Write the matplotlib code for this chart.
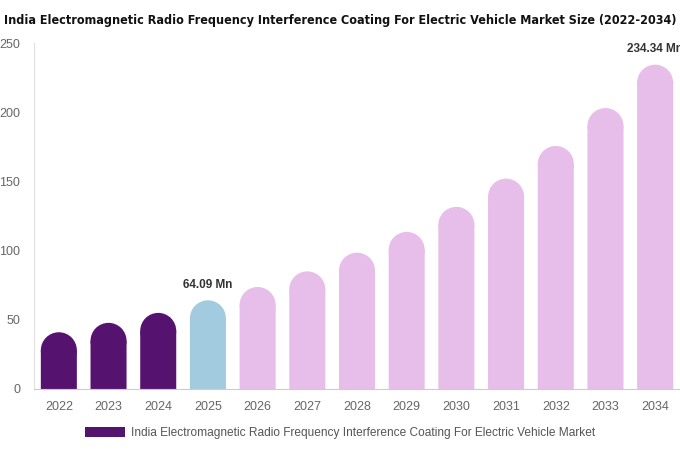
import matplotlib.pyplot as plt
from matplotlib.patches import Ellipse, Patch

years = ['2022', '2023', '2024', '2025', '2026', '2027', '2028',
         '2029', '2030', '2031', '2032', '2033', '2034']
values = [41.0, 47.8, 55.0, 64.09, 73.7, 85.0, 98.5, 113.5, 131.6,
          152.0, 175.6, 203.0, 234.34]
labels = {3: '64.09 Mn', 12: '234.34 Mn'}
title = 'India Electromagnetic Radio Frequency Interference Coating For Electric Vehicle Market Size (2022-2034)'
legend_label = 'India Electromagnetic Radio Frequency Interference Coating For Electric Vehicle Market'

dark = '#55136f'
blue = '#a3cbdf'
pink = '#e7bde9'
colors = [dark] * 3 + [blue] + [pink] * 9

plt.rcParams['font.family'] = ['Liberation Sans', 'DejaVu Sans']

fig = plt.figure(figsize=(6.8, 4.5), dpi=100)
ax = fig.add_axes([0.05, 0.1356, 0.95, 0.7688])
ax.set_xlim(-0.5, len(years) - 0.5)
ax.set_ylim(0, 250)

width = 0.725
# radius of the rounded top in data units (y)
ax_h_px = 0.7688 * 450
r = (width / 2) * (0.95 * 680 / len(years)) / (ax_h_px / 250)

x = list(range(len(years)))
for i, v in enumerate(values):
    ax.bar(i, v - r, width=width, color=colors[i], linewidth=0, snap=False)
    ax.add_patch(Ellipse((i, v - r), width=width, height=2 * r,
                         facecolor=colors[i], edgecolor='none'))

for i, txt in labels.items():
    ax.text(i, values[i] + 7, txt, ha='center', va='bottom',
            fontsize=8.5, fontweight='bold', color='#333333', clip_on=False)

ax.set_xticks(x)
ax.set_xticklabels(years)
ax.set_yticks([0, 50, 100, 150, 200, 250])
ax.tick_params(axis='both', length=0, labelsize=9, labelcolor='#666666')
ax.tick_params(axis='x', pad=9)
ax.tick_params(axis='y', pad=10)
for s in ['top', 'right']:
    ax.spines[s].set_visible(False)
ax.spines['left'].set_color('#e0e0e0')
ax.spines['bottom'].set_color('#cccccc')

fig.text(0.5, 0.955, title, ha='center', va='center', fontsize=9.0,
         fontweight='bold', fontstretch='condensed', color='#111111',
         family=['DejaVu Sans'])

fig.legend(handles=[Patch(facecolor=dark, edgecolor='none')], labels=[legend_label],
           loc='center', bbox_to_anchor=(0.5, 0.038), frameon=False,
           fontsize=8.6, labelcolor='#555555', handlelength=3.3, handleheight=0.9,
           handletextpad=0.5)

fig.savefig('out.png', dpi=100)
